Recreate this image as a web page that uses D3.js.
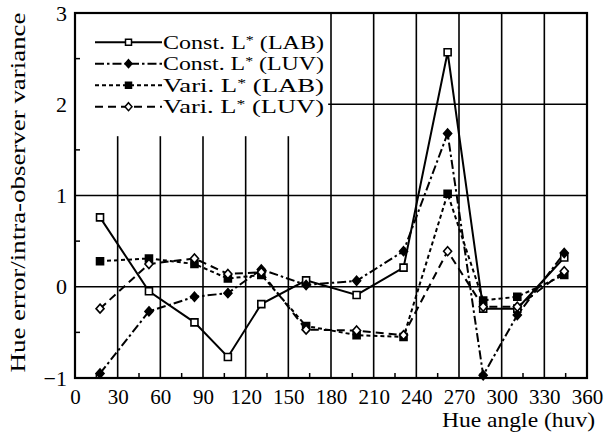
<!DOCTYPE html>
<html>
<head>
<meta charset="utf-8">
<script src="https://cdn.jsdelivr.net/npm/d3@7"></script>
<style>
  body { margin: 0; background: #fff; }
  svg text { font-family: "Liberation Serif", "Times New Roman", Times, serif; fill: #000; }
</style>
</head>
<body>
<svg id="chart"></svg>
<script>
// hue angles of the 12 samples
var hueAngles = [17.6, 52, 84, 107.5, 131, 162.5, 198, 231, 262, 287, 311, 344];

// series values
var constLAB = [0.76, -0.05, -0.39, -0.77, -0.19, 0.07, -0.09, 0.21, 2.57, -0.24, -0.24, 0.32];
var constLUV = [-0.95, -0.27, -0.11, -0.07, 0.19, 0.02, 0.065, 0.39, 1.68, -0.97, -0.31, 0.37];
var variLAB  = [0.28, 0.31, 0.25, 0.09, 0.13, -0.43, -0.53, -0.55, 1.02, -0.15, -0.11, 0.13];
var variLUV  = [-0.24, 0.25, 0.31, 0.14, 0.16, -0.47, -0.48, -0.53, 0.39, -0.22, -0.22, 0.17];

// legend labels: [prefix, suffix] around the starred L
var seriesLabels = [["Const. L", " (LAB)"], ["Const. L", " (LUV)"], ["Vari. L", " (LAB)"], ["Vari. L", " (LUV)"]];

// tick labels
var xTicks = [0, 30, 60, 90, 120, 150, 180, 210, 240, 270, 300, 330, 360];
var yTicks = [-1, 0, 1, 2, 3];

var screen = { width: 607, height: 435 };
var margins = { top: 13, bottom: 57, left: 75, right: 20 };

var svg = d3.select("#chart")
            .attr("width", screen.width)
            .attr("height", screen.height);

var xScale = d3.scaleLinear()
               .domain([0, 360])
               .range([margins.left, screen.width - margins.right]);

var yScale = d3.scaleLinear()
               .domain([-1, 3])
               .range([screen.height - margins.bottom, margins.top]);

var x0 = xScale(0), x1 = xScale(360), yTop = yScale(3), yBot = yScale(-1);

// legend area hides grid lines
var legendRight = xScale(178);
var legendBottom = yScale(1.65);

// vertical grid lines
svg.append("g").selectAll("line")
   .data(xTicks.slice(1, -1))
   .enter().append("line")
   .attr("x1", function(d){ return xScale(d); })
   .attr("x2", function(d){ return xScale(d); })
   .attr("y1", function(d){ return xScale(d) < legendRight ? legendBottom : yTop; })
   .attr("y2", yBot)
   .style("stroke", "#000")
   .style("stroke-width", 1.6);

// horizontal grid lines
svg.append("g").selectAll("line")
   .data([0, 1, 2])
   .enter().append("line")
   .attr("x1", function(d){ return yScale(d) < legendBottom ? legendRight : x0; })
   .attr("x2", x1)
   .attr("y1", function(d){ return yScale(d); })
   .attr("y2", function(d){ return yScale(d); })
   .style("stroke", "#000")
   .style("stroke-width", 1.6);

// axes
var xAxis = d3.axisBottom(xScale).tickValues(xTicks).tickSize(0).tickPadding(11)
              .tickFormat(d3.format("d"));
var yAxis = d3.axisLeft(yScale).tickValues(yTicks).tickSize(0).tickPadding(8)
              .tickFormat(function(d){ return d < 0 ? "\u2212" + Math.abs(d) : d; });

var gx = svg.append("g")
   .attr("transform", "translate(0," + yBot + ")")
   .call(xAxis);
gx.select(".domain").remove();
gx.selectAll("text").attr("font-size", 21);

var gy = svg.append("g")
   .attr("transform", "translate(" + x0 + ",0)")
   .call(yAxis);
gy.select(".domain").remove();
gy.selectAll("text").attr("font-size", 22);

// minor ticks
svg.append("g").selectAll("line")
   .data(d3.range(15, 360, 30))
   .enter().append("line")
   .attr("x1", function(d){ return xScale(d); })
   .attr("x2", function(d){ return xScale(d); })
   .attr("y1", yBot)
   .attr("y2", yBot - 5)
   .style("stroke", "#000")
   .style("stroke-width", 1.5);

svg.append("g").selectAll("line")
   .data([-0.5, 0.5, 1.5, 2.5])
   .enter().append("line")
   .attr("x1", x0)
   .attr("x2", x0 + 5)
   .attr("y1", function(d){ return yScale(d); })
   .attr("y2", function(d){ return yScale(d); })
   .style("stroke", "#000")
   .style("stroke-width", 1.5);

// frame
svg.append("rect")
   .attr("x", x0)
   .attr("y", yTop)
   .attr("width", x1 - x0)
   .attr("height", yBot - yTop)
   .attr("fill", "none")
   .style("stroke", "#000")
   .style("stroke-width", 2.2);

// series
var series = [
  { label: seriesLabels[0], values: constLAB, dash: null,        marker: "square",  filled: false },
  { label: seriesLabels[1], values: constLUV, dash: "9,3,2.5,3", marker: "diamond", filled: true },
  { label: seriesLabels[2], values: variLAB,  dash: "4,3",       marker: "square",  filled: true },
  { label: seriesLabels[3], values: variLUV,  dash: "8,5",       marker: "diamond", filled: false }
];

var line = d3.line()
             .x(function(d){ return xScale(d.x); })
             .y(function(d){ return yScale(d.y); });

var markerPath = function(type, size) {
  var h = size / 2;
  if (type == "square") {
    return "M" + (-h) + "," + (-h) + "H" + h + "V" + h + "H" + (-h) + "Z";
  }
  return "M0," + (-h - 1) + "L" + (h + 0.5) + ",0L0," + (h + 1) + "L" + (-h - 0.5) + ",0Z";
};

var dataG = svg.append("g");

series.forEach(function(s){
  var pts = hueAngles.map(function(a, i){ return { x: a, y: s.values[i] }; });
  dataG.append("path")
       .datum(pts)
       .attr("d", line)
       .attr("fill", "none")
       .style("stroke", "#000")
       .style("stroke-width", 2)
       .style("stroke-dasharray", s.dash);
});

series.forEach(function(s){
  var pts = hueAngles.map(function(a, i){ return { x: a, y: s.values[i] }; });
  dataG.append("g").selectAll("path")
       .data(pts)
       .enter().append("path")
       .attr("d", markerPath(s.marker, 7))
       .attr("transform", function(d){ return "translate(" + xScale(d.x) + "," + yScale(d.y) + ")"; })
       .attr("fill", s.filled ? "#000" : "#fff")
       .style("stroke", "#000")
       .style("stroke-width", 1.6);
});

// legend
var legend = svg.append("g").attr("font-size", 18);
var legendRow = 21.5;
var legendLine = { x1: 95, x2: 162 };

var rows = legend.selectAll("g")
                 .data(series)
                 .enter().append("g")
                 .attr("transform", function(d, i){ return "translate(0," + (yScale(2.68) + i * legendRow) + ")"; });

rows.append("line")
    .attr("x1", legendLine.x1)
    .attr("x2", legendLine.x2)
    .attr("y1", 0)
    .attr("y2", 0)
    .style("stroke", "#000")
    .style("stroke-width", 2)
    .style("stroke-dasharray", function(d){ return d.dash; });

rows.append("path")
    .attr("d", function(d){ return markerPath(d.marker, 6); })
    .attr("transform", "translate(" + ((legendLine.x1 + legendLine.x2) / 2) + ",0)")
    .attr("fill", function(d){ return d.filled ? "#000" : "#fff"; })
    .style("stroke", "#000")
    .style("stroke-width", 1.5);

var legendText = rows.append("text")
    .attr("x", legendLine.x2 + 1)
    .attr("y", 6.5)
    .attr("textLength", 161)
    .attr("lengthAdjust", "spacingAndGlyphs");
legendText.append("tspan").text(function(d){ return d.label[0]; });
legendText.append("tspan").attr("font-size", 12).attr("dy", -5).text("*");
legendText.append("tspan").attr("dy", 5).text(function(d){ return d.label[1]; });

// axis titles
svg.append("text")
   .attr("x", 595)
   .attr("y", 427)
   .attr("text-anchor", "end")
   .attr("font-size", 21)
   .attr("textLength", 153)
   .attr("lengthAdjust", "spacingAndGlyphs")
   .text("Hue angle (huv)");

svg.append("text")
   .attr("transform", "translate(25," + ((yTop + yBot) / 2 - 3) + ") rotate(-90)")
   .attr("text-anchor", "middle")
   .attr("font-size", 21)
   .attr("textLength", 360)
   .attr("lengthAdjust", "spacingAndGlyphs")
   .text("Hue error/intra-observer variance");
</script>
</body>
</html>
